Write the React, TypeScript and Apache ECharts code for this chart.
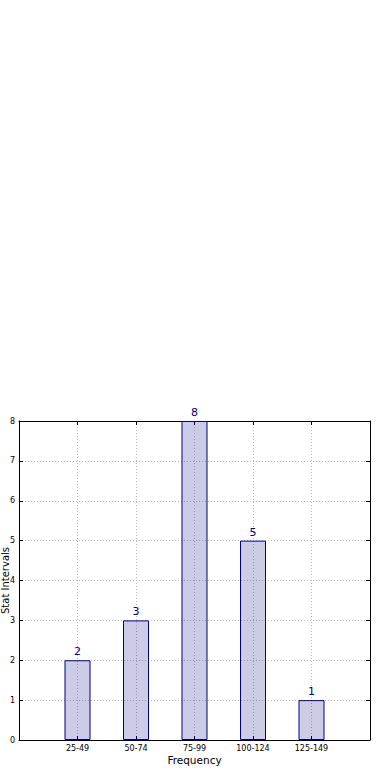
import React, { useEffect, useRef } from "react";
import * as echarts from "echarts";

const categories = ["25-49", "50-74", "75-99", "100-124", "125-149"];
const counts = [2, 3, 8, 5, 1];
const yTicks = [0, 1, 2, 3, 4, 5, 6, 7, 8];

export default function App() {
  const ref = useRef<HTMLDivElement>(null);
  useEffect(() => {
    if (!ref.current) return;
    const chart = echarts.init(ref.current, null, { renderer: "svg" });
    const font = "DejaVu Sans";
    const grid = "#bbbbbb";
    const data = counts.map((v, i) => [i + 1, v]);
    chart.setOption({
      animation: false,
      backgroundColor: "#ffffff",
      textStyle: { fontFamily: font },
      grid: {
        left: 19,
        top: 421,
        width: 351,
        height: 319,
        containLabel: false,
        outerBoundsMode: "none",
      },
      xAxis: [
        {
          type: "value",
          min: 0,
          max: 6,
          interval: 1,
          position: "bottom",
          name: "Frequency",
          nameLocation: "middle",
          nameGap: 14,
          nameMoveOverlap: false,
          nameTextStyle: { fontSize: 10.5, color: "#000", fontFamily: font },
          axisLine: { show: true, onZero: false, lineStyle: { color: "#000", width: 1 } },
          axisTick: { show: true, inside: true, length: 4, lineStyle: { color: "#000" } },
          axisLabel: {
            fontSize: 8,
            color: "#000",
            margin: 4,
            fontFamily: font,
            formatter: (v: number) => (v >= 1 && v <= categories.length ? categories[v - 1] : ""),
          },
          splitLine: {
            show: true,
            showMinLine: false,
            showMaxLine: false,
            lineStyle: { color: grid, type: [1, 2], width: 1 },
          },
        },
        {
          type: "value",
          min: 0,
          max: 6,
          interval: 1,
          position: "top",
          axisLine: { show: true, onZero: false, lineStyle: { color: "#000", width: 1 } },
          axisTick: { show: true, inside: true, length: 4, lineStyle: { color: "#000" } },
          axisLabel: { show: false },
          splitLine: { show: false },
        },
      ],
      yAxis: [
        {
          type: "value",
          min: 0,
          max: 8,
          interval: 1,
          position: "left",
          name: "Stat Intervals",
          nameLocation: "middle",
          nameGap: 9,
          nameMoveOverlap: false,
          nameRotate: 90,
          nameTextStyle: { fontSize: 10, lineHeight: 10, color: "#000", fontFamily: font },
          axisLine: { show: true, onZero: false, lineStyle: { color: "#000", width: 1 } },
          axisTick: { show: true, inside: true, length: 4, lineStyle: { color: "#000" } },
          axisLabel: {
            fontSize: 8,
            color: "#000",
            margin: 4,
            fontFamily: font,
            formatter: (v: number) => (yTicks.includes(v) ? String(v) : ""),
          },
          splitLine: {
            show: true,
            showMinLine: false,
            showMaxLine: false,
            lineStyle: { color: grid, type: [1, 2], width: 1 },
          },
        },
        {
          type: "value",
          min: 0,
          max: 8,
          interval: 1,
          position: "right",
          axisLine: { show: true, onZero: false, lineStyle: { color: "#000", width: 1 } },
          axisTick: { show: true, inside: true, length: 4, lineStyle: { color: "#000" } },
          axisLabel: { show: false },
          splitLine: { show: false },
        },
      ],
      series: [
        {
          type: "bar",
          xAxisIndex: 0,
          yAxisIndex: 0,
          data,
          barWidth: 26,
          itemStyle: {
            color: "rgba(0,0,128,0.2)",
            borderColor: "#000080",
            borderWidth: 1,
          },
          label: {
            show: true,
            position: "top",
            distance: 3,
            fontSize: 11,
            color: "#000080",
            fontFamily: font,
            formatter: (p: any) => String(p.value[1]),
          },
        },
      ],
    });
    return () => chart.dispose();
  }, []);
  return (
    <div
      ref={ref}
      style={{ position: "fixed", left: 0, top: 0, width: 390, height: 780, background: "#fff" }}
    />
  );
}
